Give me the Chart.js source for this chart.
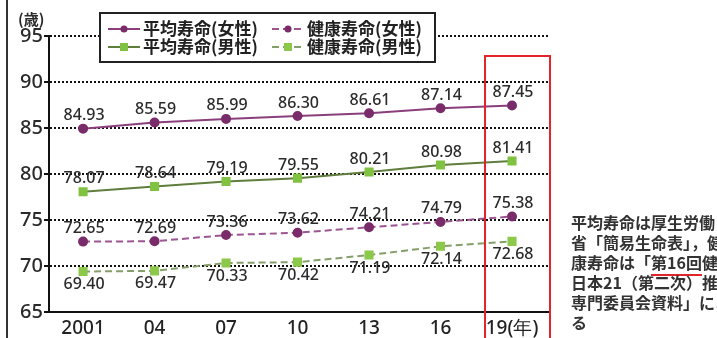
<!DOCTYPE html>
<html lang="ja">
<head>
  <meta charset="UTF-8" />
  <title>平均寿命と健康寿命</title>
  <script src="https://cdn.jsdelivr.net/npm/chart.js"></script>
  <style>
    body { margin: 0; background: #fff; }
    .wrap { position: relative; width: 717px; height: 338px; overflow: hidden; background: #fff; }
    #lifeChart { position: absolute; left: 0; top: 0; }
    .note {
      position: absolute; left: 571px; top: 212px;
      font: 600 16px/20px "Noto Sans CJK JP", sans-serif;
      color: #333; white-space: nowrap;
    }
    .note .mark { border-bottom: 2px solid #e0262b; }
  </style>
</head>
<body>

<div class="wrap">
  <canvas id="lifeChart" width="717" height="338"></canvas>
  <!-- source note on the right -->
  <div class="note">
    平均寿命は厚生労働<br>
    省「簡易生命表」，健<br>
    康寿命は「<span class="mark">第16回</span>健康<br>
    日本21（第二次）推進<br>
    専門委員会資料」によ<br>
    る
  </div>
</div>

<script>
  const years = [2001, 2004, 2007, 2010, 2013, 2016, 2019];
  const yearLabels = ['2001', '04', '07', '10', '13', '16', '19(年)'];
  const yTicks = [65, 70, 75, 80, 85, 90, 95];

  const lifeFemale   = [84.93, 85.59, 85.99, 86.30, 86.61, 87.14, 87.45];
  const healthFemale = [72.65, 72.69, 73.36, 73.62, 74.21, 74.79, 75.38];
  const lifeMale     = [78.07, 78.64, 79.19, 79.55, 80.21, 80.98, 81.41];
  const healthMale   = [69.40, 69.47, 70.33, 70.42, 71.19, 72.14, 72.68];

  const seriesNames = ['平均寿命(女性)', '健康寿命(女性)', '平均寿命(男性)', '健康寿命(男性)'];

  const toPoints = arr => years.map((yr, i) => ({ x: yr, y: arr[i] }));

  function series(name, values, line, mark, style, dashed, labelPos) {
    return {
      label: name,
      data: toPoints(values),
      borderColor: line,
      borderWidth: 2,
      borderDash: dashed ? [7, 4] : [],
      pointStyle: style,
      pointRadius: style === 'rect' ? 5 : 4,
      pointBackgroundColor: mark,
      pointBorderColor: mark,
      tension: 0,
      labelPos: labelPos
    };
  }

  // value labels next to each point
  const valueLabels = {
    id: 'valueLabels',
    afterDatasetsDraw(chart) {
      const ctx = chart.ctx;
      ctx.save();
      ctx.font = '500 16px "Noto Sans", sans-serif';
      ctx.fillStyle = '#2b2b2b';
      ctx.textAlign = 'center';
      ctx.textBaseline = 'middle';
      chart.data.datasets.forEach((ds, di) => {
        const meta = chart.getDatasetMeta(di);
        meta.data.forEach((pt, i) => {
          const off = ds.labelPos === 'below' ? 13 : -13;
          ctx.fillText(ds.data[i].y.toFixed(2), pt.x + 1, pt.y + off);
        });
      });
      ctx.restore();
    }
  };

  // boxed legend, axis units, red frame round 2019, page edge
  const decorations = {
    id: 'decorations',
    afterDraw(chart) {
      const ctx = chart.ctx;
      const xs = chart.scales.x;
      ctx.save();

      // page edge line
      ctx.strokeStyle = '#333';
      ctx.lineWidth = 2;
      ctx.beginPath(); ctx.moveTo(7, 0); ctx.lineTo(7, 338); ctx.stroke();

      // unit label
      ctx.font = '600 15px "Noto Sans CJK JP", sans-serif';
      ctx.fillStyle = '#2b2b2b';
      ctx.textAlign = 'left';
      ctx.textBaseline = 'middle';
      ctx.fillText('(歳)', 18, 19);

      // red frame round the last year
      const cx = xs.getPixelForValue(years[years.length - 1]);
      ctx.strokeStyle = '#e3242b';
      ctx.lineWidth = 2;
      ctx.strokeRect(cx - 27, 56, 65, 290);

      // legend
      ctx.fillStyle = '#fff';
      ctx.fillRect(100, 13, 335, 49);
      ctx.strokeStyle = '#222';
      ctx.lineWidth = 2;
      ctx.strokeRect(100, 13, 335, 49);
      const colX = [108, 272], rowY = [29, 47];
      chart.data.datasets.forEach((ds, i) => {
        const x = colX[i % 2], y = rowY[Math.floor(i / 2)];
        ctx.strokeStyle = ds.borderColor;
        ctx.lineWidth = 2;
        ctx.setLineDash(ds.borderDash);
        ctx.beginPath(); ctx.moveTo(x, y); ctx.lineTo(x + 32, y); ctx.stroke();
        ctx.setLineDash([]);
        ctx.fillStyle = ds.pointBackgroundColor;
        if (ds.pointStyle === 'rect') {
          ctx.fillRect(x + 12, y - 4, 8, 8);
        } else {
          ctx.beginPath(); ctx.arc(x + 16, y, 3.5, 0, Math.PI * 2); ctx.fill();
        }
        ctx.fillStyle = '#222';
        ctx.font = '600 17px "Noto Sans CJK JP", sans-serif';
        ctx.textAlign = 'left';
        ctx.fillText(ds.label, x + 35, y);
      });
      ctx.restore();
    }
  };

  new Chart(document.getElementById('lifeChart'), {
    type: 'line',
    data: {
      datasets: [
        series(seriesNames[0], lifeFemale,   '#8a3f7c', '#7a2c6a', 'circle', false, 'above'),
        series(seriesNames[1], healthFemale, '#9c5592', '#7a2c6a', 'circle', true,  'above'),
        series(seriesNames[2], lifeMale,     '#5f7d3c', '#80c241', 'rect',   false, 'above'),
        series(seriesNames[3], healthMale,   '#859f6b', '#8cc84a', 'rect',   true,  'below')
      ]
    },
    options: {
      responsive: false,
      animation: false,
      layout: { padding: { left: 0, right: 169, top: 36, bottom: 0 } },
      plugins: { legend: { display: false }, tooltip: { enabled: false } },
      scales: {
        x: {
          type: 'linear',
          min: 1999.57,
          max: 2020.51,
          afterBuildTicks: s => { s.ticks = years.map(v => ({ value: v })); },
          afterFit: s => { s.height = 26; },
          grid: { display: false, drawTicks: false },
          border: { color: '#111', width: 2 },
          ticks: {
            padding: 5,
            color: '#222',
            font: { family: 'Noto Sans', size: 19, weight: '500' },
            callback: v => yearLabels[years.indexOf(v)]
          }
        },
        y: {
          min: 65,
          max: 95,
          afterBuildTicks: s => { s.ticks = yTicks.map(v => ({ value: v })); },
          afterFit: s => { s.width = 49; },
          grid: { color: '#111', lineWidth: 2, tickLength: 5 },
          border: { color: '#111', width: 2, dash: [2, 2] },
          ticks: {
            padding: 1,
            color: '#2a2a2a',
            font: { family: 'Noto Sans', size: 20, weight: '500' }
          }
        }
      }
    },
    plugins: [valueLabels, decorations]
  });
</script>

</body>
</html>
